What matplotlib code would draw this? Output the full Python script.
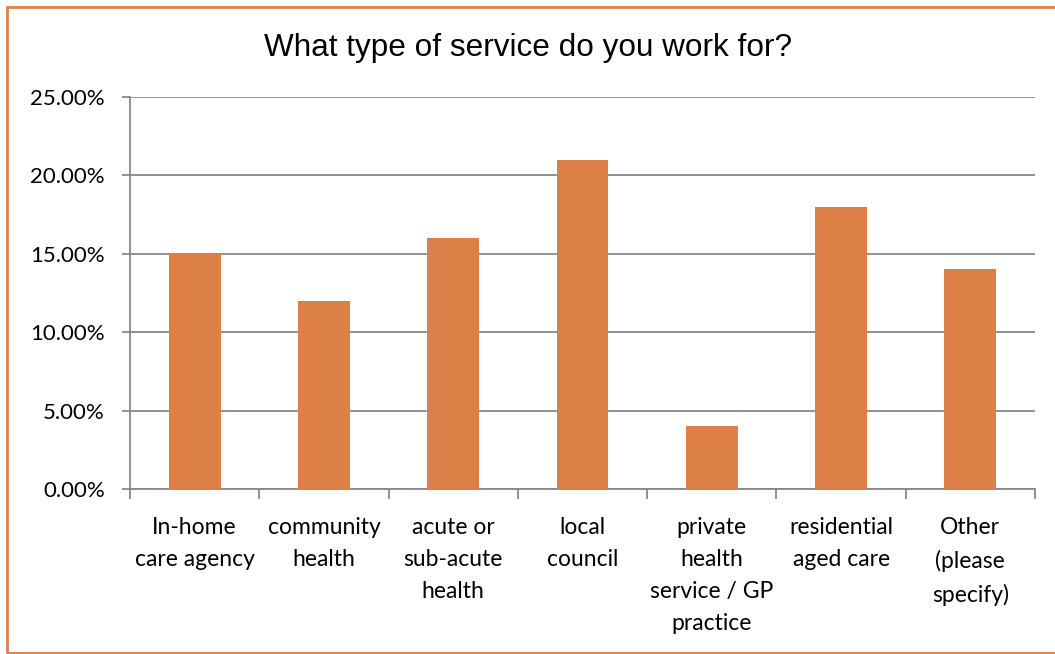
import matplotlib
matplotlib.use("Agg")
import matplotlib.pyplot as plt
from matplotlib.patches import Rectangle
from matplotlib.ticker import FuncFormatter, FixedLocator

categories = ["In-home\ncare agency", "community\nhealth", "acute or\nsub-acute\nhealth",
              "local\ncouncil", "private\nhealth\nservice / GP\npractice",
              "residential\naged care", "Other\n(please\nspecify)"]
values = [0.15, 0.12, 0.16, 0.21, 0.04, 0.18, 0.14]
yticks = [0.0, 0.05, 0.10, 0.15, 0.20, 0.25]

title = "What type of service do you work for?"
bar_color = "#DD8047"
grid_color = "#888888"
label_font = ["Lato", "DejaVu Sans"]

fig = plt.figure(figsize=(10.55, 6.54), dpi=100)
fig.patches.append(Rectangle((7/1055, 1.5/654), 1060/1055, 646/654, transform=fig.transFigure,
                             fill=False, edgecolor=bar_color, linewidth=2))
ax = fig.add_axes([130/1055, 1-489/654, (1035-130)/1055, (489-97)/654])

x = list(range(len(categories)))
ax.bar(x, values, width=0.40, color=bar_color, zorder=3)
ax.set_xlim(-0.5, len(categories)-0.5)
ax.set_ylim(0, 0.25)
ax.set_yticks(yticks)
ax.yaxis.set_major_formatter(FuncFormatter(lambda v, p: f"{v*100:.2f}%"))
ax.grid(axis="y", color=grid_color, linewidth=1.3, zorder=0)
ax.tick_params(axis="y", length=6, width=1.3, color=grid_color, pad=12, labelsize=16)
for s in ["top", "right"]:
    ax.spines[s].set_visible(False)
for s in ["left", "bottom"]:
    ax.spines[s].set_color(grid_color)
    ax.spines[s].set_linewidth(1.3)

ax.xaxis.set_major_locator(FixedLocator([i - 0.5 for i in range(len(categories)+1)]))
ax.xaxis.set_minor_locator(FixedLocator(x))
ax.set_xticklabels([""]*(len(categories)+1))
ax.set_xticklabels(categories, minor=True, fontsize=16.5, linespacing=1.66,
                   va="top", ha="center", family=label_font)
ax.tick_params(axis="x", which="major", length=7, width=1.3, color=grid_color)
ax.tick_params(axis="x", which="minor", length=0, pad=20)
for lbl in ax.get_yticklabels():
    lbl.set_family(label_font)

fig.text(0.5, 1-48/654, title, ha="center", va="center", fontsize=22.7, family=["Liberation Sans"])
fig.savefig("out.png", dpi=100)
